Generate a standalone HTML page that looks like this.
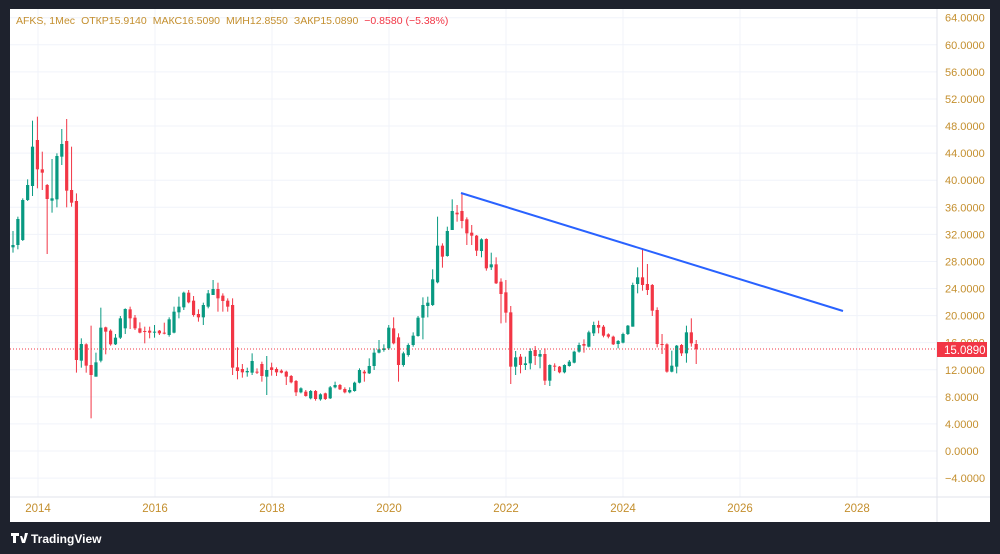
<!DOCTYPE html>
<html><head><meta charset="utf-8"><style>
body{margin:0;width:1000px;height:554px;background:#1e222d;overflow:hidden;font-family:"Liberation Sans","DejaVu Sans",sans-serif}
#p{position:absolute;left:10px;top:9px;width:980px;height:513px;background:#fff}
svg{position:absolute;left:0;top:0}
</style></head><body>
<div id="p"></div>
<svg id="s" width="1000" height="554" xmlns="http://www.w3.org/2000/svg"></svg>
<script>
var s=document.getElementById('s'),h='';
function Y(p){return 451-6.77*p;}
for(var v=64;v>=-4;v-=4){var y=Y(v);h+='<line x1="10" x2="937" y1="'+y+'" y2="'+y+'" stroke="#f0f3fa" stroke-width="1"/>';
h+='<text x="945" y="'+(y+4)+'" font-size="11" fill="#c48f2e">'+v.toFixed(4).replace('-','\u2212')+'</text>';}
var yrs=[2014,2016,2018,2020,2022,2024,2026,2028];
yrs.forEach(function(yr,i){var x=38+i*117;h+='<line x1="'+x+'" x2="'+x+'" y1="9" y2="497" stroke="#f0f3fa"/>';
h+='<text x="'+x+'" y="512" font-size="11.5" fill="#c48f2e" text-anchor="middle">'+yr+'</text>';});
h+='<line x1="937" x2="937" y1="9" y2="522" stroke="#e0e3eb"/><line x1="10" x2="990" y1="497" y2="497" stroke="#e0e3eb"/>';
var A=[[412,405,363,428],[405,327,320,418],[390,270,265,393],[270,225,208,273],[228,110,32,258],[90,178,20,235],[178,188,125,240],[225,267,222,432],[272,265,147,308],[268,138,130,292],[140,102,57,165],[93,242,27,292],[240,278,110,290],[273,750,250,788],[752,702,685,773],[703,767,700,788],[765,795,647,925],[800,757,728,800],[752,653,593,757],[652,665,650,733],[662,703,658,707],[703,683,672,705],[683,625,618,687],[655,597,595,672],[598,625,590,657],[623,655,615,660],[655,668,637,670],[663,665,650,700],[662,668,650,685],[667,665,645,683],[662,670,660,675],[668,670,638,673],[675,628,622,680],[668,605,590,670],[607,590,560,625],[592,548,545,600],[548,577,540,580],[572,615,558,620],[612,622,598,635],[622,585,578,645],[590,550,540,595],[555,537,510,555],[537,565,518,605],[557,573,550,605],[572,590,565,605],[585,773,565,795],[772,783,712,808],[777,787,762,803],[787,783,773,800]];
var B=[[578,543,520,585],[575,578,565,582],[552,588,545,605],[590,570,528,645],[562,570,548,587],[567,577,562,588],[572,578,568,580],[575,590,572,615],[588,607,585,610],[603,637,600,648],[637,625,622,640],[635,648,630,650],[655,633,630,658],[633,657,630,662],[658,643,640,662],[640,657,638,660],[655,622,618,657],[622,615,605,625],[615,628,612,630],[627,637,622,640],[637,630,622,640],[633,608,605,635],[608,570,565,610],[575,580,570,605],[580,558,535,582],[558,518,505,570],[518,508,480,520],[510,505,493,515],[505,443,435,510],[445,490,412,493],[472,555,460,605],[555,520,515,560],[525,495,490,530],[495,467,457,500],[468,413,408,470],[413,375,352,478],[378,368,350,412],[375,298,268,378],[307,197,110,310],[197,230,190,263],[228,153,140,230],[150,93,58,150],[98,103,75,125],[93,123,40,145],[118,160,112,195],[158,167,135,195],[167,212,165,228],[213,178,175,232],[177,265,175,272],[262,253,218,270],[253,310,232,312],[305,342,295,430],[337,398,300,428],[397,560,378,612],[560,532,513,585],[530,555,522,580],[555,550,530,570],[550,513,505,568],[510,528,498,555],[530,522,510,565],[522,602,505,615],[602,555,553,618],[557,560,550,573],[560,577,558,580],[577,555,553,580],[558,545,540,560],[548,515,512,550],[515,495,488,518],[492,497,478,518],[500,457,452,502],[460,435,425,468],[435,443,422,460],[440,467,435,472],[463,470,460,475],[470,493,467,495],[492,483,480,505],[488,462,458,490],[462,437,435,465],[440,315,308,440],[312,292,262,340],[292,315,205,332],[312,330,252,345],[315,392,312,408],[390,492,382,502],[492,495,462,522],[493,575,490,578],[575,557,512,577],[560,497,495,580],[495,520,492,528],[520,457,437,548],[457,490,415,500],[492,508,480,552]];
var all=A.map(function(c){return c.map(function(v){return 110+v/3;});}).concat(B.map(function(c){return c.map(function(v){return 180+v/3;});}));
all.forEach(function(c,i){var x=13+i*4.88,o=c[0],cl=c[1],col=cl<o?'#089981':'#f23645';
var t=Math.min(o,cl),bh=Math.max(Math.abs(o-cl),1);
h+='<line x1="'+x+'" x2="'+x+'" y1="'+c[2]+'" y2="'+c[3]+'" stroke="'+col+'" stroke-width="1"/>';
h+='<rect x="'+(x-1.6)+'" y="'+t+'" width="3.2" height="'+bh+'" fill="'+col+'"/>';});
h+='<line x1="10" x2="937" y1="349" y2="349" stroke="#f23645" stroke-width="1" stroke-dasharray="1,2"/>';
h+='<line x1="461" y1="193" x2="843" y2="311" stroke="#2962ff" stroke-width="2"/>';
h+='<rect x="937" y="342" width="50" height="15" fill="#f23645"/><text x="944" y="354" font-size="11.5" fill="#fff">15.0890</text>';
h+='<text x="16" y="24" font-size="10.5" fill="#c48f2e">AFKS, 1Мес<tspan dx="6">ОТКР15.9140</tspan><tspan dx="6">МАКС16.5090</tspan><tspan dx="6">МИН12.8550</tspan><tspan dx="6">ЗАКР15.0890</tspan><tspan dx="6" fill="#f23645">−0.8580 (−5.38%)</tspan></text>';
h+='<path d="M11 533h8v3h-3v7h-3v-7h-2z M20 536l2 0 3 7h-3z M25 533h3l-3 10h-2z" fill="#fff"/>';
h+='<text x="31" y="543" font-size="12" fill="#fff" font-weight="bold">TradingView</text>';
s.innerHTML=h;
</script>
</body></html>
